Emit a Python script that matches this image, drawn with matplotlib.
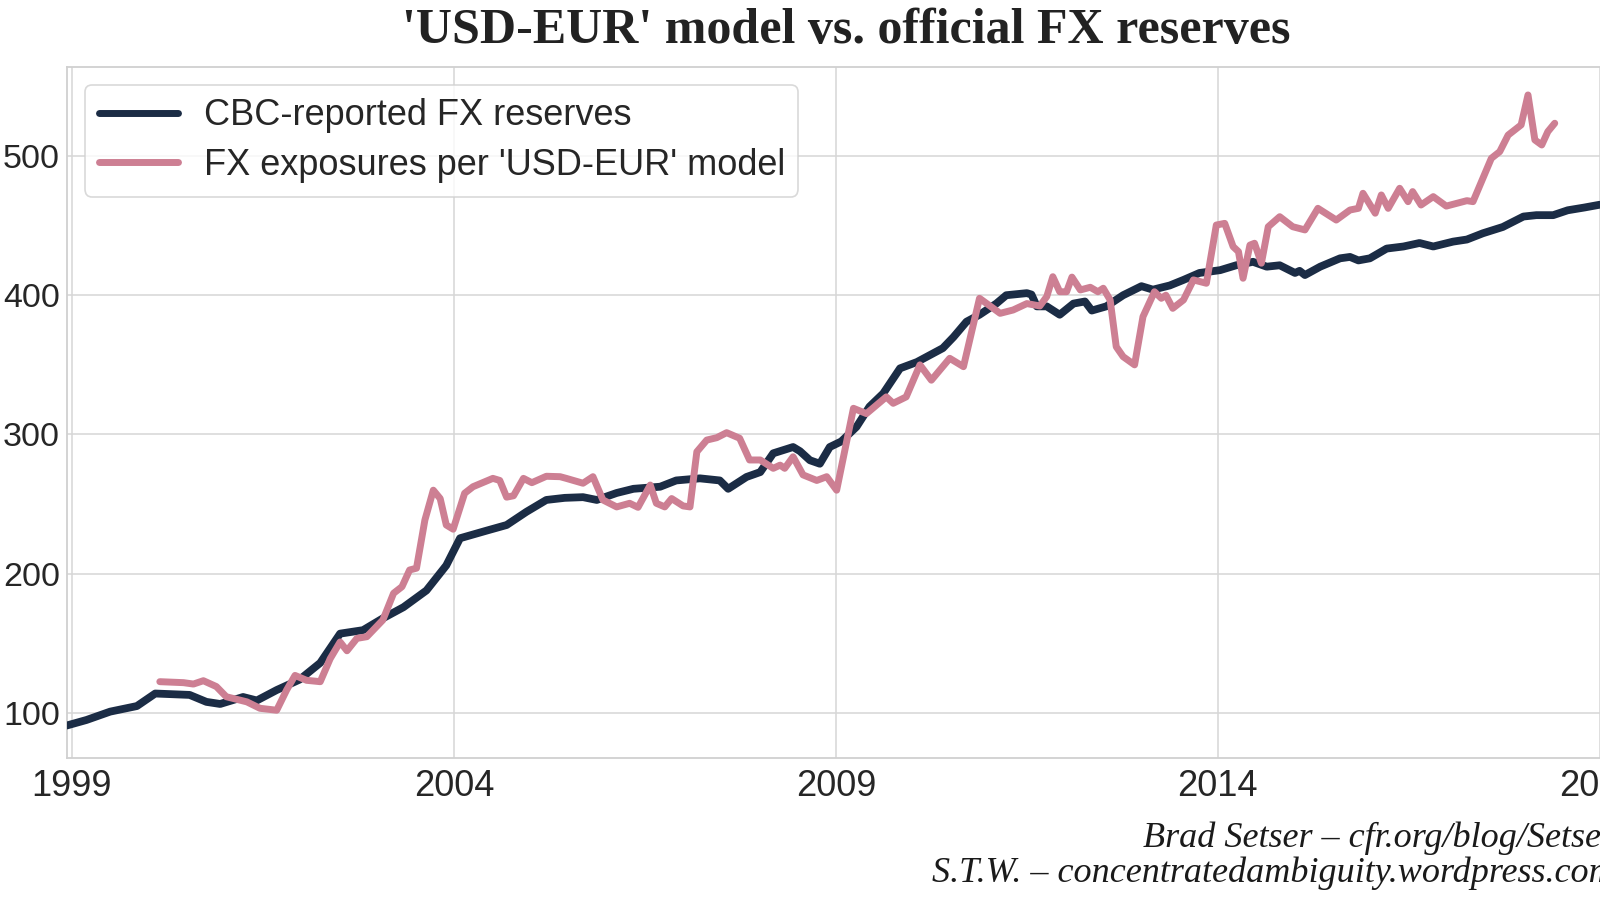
import matplotlib
matplotlib.use("Agg")
import matplotlib.pyplot as plt

# CBC-reported FX reserves (decimal year, USD bn)
cbc_year = [1998.93, 1999.19, 1999.50, 1999.85, 2000.09, 2000.54, 2000.76, 2000.94,
            2001.24, 2001.42, 2001.68, 2001.98, 2002.25, 2002.51, 2002.81, 2003.07,
            2003.34, 2003.64, 2003.90, 2004.08, 2004.43, 2004.69, 2004.95, 2005.21,
            2005.45, 2005.69, 2005.87, 2006.13, 2006.35, 2006.70, 2006.91, 2007.22,
            2007.48, 2007.59, 2007.83, 2008.01, 2008.18, 2008.44, 2008.53, 2008.66,
            2008.79, 2008.92, 2009.07, 2009.27, 2009.44, 2009.62, 2009.84, 2010.06,
            2010.40, 2010.54, 2010.71, 2010.88, 2011.10, 2011.23, 2011.50, 2011.56,
            2011.63, 2011.76, 2011.93, 2012.11, 2012.26, 2012.35, 2012.54, 2012.76,
            2013.00, 2013.15, 2013.37, 2013.55, 2013.76, 2014.03, 2014.24, 2014.46,
            2014.64, 2014.81, 2015.01, 2015.07, 2015.14, 2015.34, 2015.60, 2015.73,
            2015.84, 2015.99, 2016.21, 2016.43, 2016.64, 2016.82, 2017.08, 2017.26,
            2017.47, 2017.73, 2018.00, 2018.17, 2018.39, 2018.58, 2018.80, 2019.00]
cbc_val = [91, 95, 101, 105, 114, 113, 108, 106.5,
           111.5, 109, 116.5, 124, 136, 157, 159.5, 168,
           176, 188, 206, 225.5, 231, 235, 244.5, 253,
           254.5, 255, 253, 258, 261, 262.5, 267, 268.5,
           267, 261, 269.5, 273, 286.5, 291, 288, 281.5,
           279, 291, 295, 305.5, 320, 329.5, 347.5, 352,
           362, 370, 381, 386, 394, 400, 401.5, 400.5,
           392, 392, 386, 394, 395.5, 389, 392, 400,
           406.5, 404, 407, 411, 416, 418, 421.5, 424,
           420.5, 421.5, 416, 417.5, 414.5, 420.5, 426.5, 427.5,
           425, 426.5, 433.5, 435, 437.5, 435, 438.5, 440,
           444.5, 449, 456.5, 457.5, 457.5, 461, 463, 465]

# FX exposures per 'USD-EUR' model
model_year = [2000.15, 2000.46, 2000.59, 2000.72, 2000.89, 2001.02, 2001.29, 2001.46,
              2001.68, 2001.81, 2001.92, 2002.07, 2002.25, 2002.38, 2002.51, 2002.60,
              2002.73, 2002.86, 2003.07, 2003.21, 2003.32, 2003.42, 2003.51, 2003.62,
              2003.73, 2003.82, 2003.90, 2003.99, 2004.14, 2004.25, 2004.51, 2004.60,
              2004.69, 2004.78, 2004.91, 2005.02, 2005.21, 2005.39, 2005.47, 2005.69,
              2005.82, 2005.95, 2006.13, 2006.30, 2006.41, 2006.57, 2006.65, 2006.76,
              2006.85, 2007.00, 2007.09, 2007.18, 2007.31, 2007.44, 2007.57, 2007.74,
              2007.87, 2008.01, 2008.18, 2008.27, 2008.33, 2008.44, 2008.57, 2008.75,
              2008.88, 2009.01, 2009.23, 2009.40, 2009.66, 2009.75, 2009.92, 2010.10,
              2010.25, 2010.49, 2010.67, 2010.88, 2011.15, 2011.32, 2011.50, 2011.67,
              2011.76, 2011.84, 2011.93, 2012.02, 2012.09, 2012.20, 2012.33, 2012.43,
              2012.50, 2012.59, 2012.67, 2012.76, 2012.91, 2013.02, 2013.17, 2013.26,
              2013.32, 2013.41, 2013.55, 2013.68, 2013.85, 2013.98, 2014.09, 2014.20,
              2014.27, 2014.33, 2014.42, 2014.48, 2014.57, 2014.66, 2014.81, 2014.98,
              2015.14, 2015.31, 2015.55, 2015.73, 2015.84, 2015.90, 2016.06, 2016.14,
              2016.23, 2016.38, 2016.49, 2016.55, 2016.66, 2016.82, 2016.99, 2017.26,
              2017.34, 2017.58, 2017.69, 2017.80, 2017.97, 2018.06, 2018.15, 2018.24,
              2018.32, 2018.41]
model_val = [122.5, 121.8, 120.8, 123.2, 119, 111.7, 108, 103.4,
             102, 116.5, 127, 123.5, 122.5, 139, 151, 144.7,
             153.6, 154.8, 166.8, 186, 190.7, 202.7, 204, 238.6,
             260, 254, 235, 232, 257.8, 262.5, 268.5, 267,
             255, 256, 268.5, 265.4, 270, 269.7, 268.5, 265,
             269.7, 253, 248, 250.6, 247.7, 263.7, 250.6, 248,
             254, 248.7, 248, 287.6, 296, 297.7, 301.3, 297.3,
             281.7, 281.7, 275.7, 278, 275.7, 284, 271, 267,
             269.7, 260, 318.8, 315, 327, 322.4, 327, 350,
             339, 354.7, 348.7, 397.8, 387, 389.4, 394, 392.3,
             399, 413.3, 402.5, 402.5, 413, 403.8, 405.7, 402.5,
             405, 396.6, 363, 355.9, 350, 384.6, 402.5, 397.8,
             400, 390.6, 396.6, 411, 408.6, 450.4, 451.6, 434.9,
             431.3, 412.2, 436, 437.3, 423, 449.2, 456.4, 449.2,
             446.9, 462.4, 454, 461.2, 462.4, 473.2, 458.9, 472,
             462.4, 476.8, 467.2, 474.4, 464.8, 470.8, 464, 467.9,
             467.2, 498.3, 503.1, 515, 522.3, 543.8, 511.5, 507.9,
             517.5, 523.5]

xticks = [1999, 2004, 2009, 2014, 2019]
yticks = [100, 200, 300, 400, 500]

plt.rcParams['font.family'] = ['Liberation Sans', 'DejaVu Sans']

fig = plt.figure(figsize=(16, 9), dpi=100)
# axes run past the right edge of the figure, as in the cropped original
ax = fig.add_axes([67/1600, 142/900, 1571/1600, 691.3/900])

ax.plot(cbc_year, cbc_val, color='#1b2c45', lw=5.6, solid_capstyle='round',
        solid_joinstyle='round', label="CBC-reported FX reserves", zorder=3)
ax.plot(model_year, model_val, color='#cd7f93', lw=5.0, solid_capstyle='round',
        solid_joinstyle='round', label="FX exposures per 'USD-EUR' model", zorder=3)

ax.set_xlim(1998.935, 2019.5)
ax.set_ylim(67.7, 564.1)
ax.set_xticks(xticks)
ax.set_xticklabels([str(t) for t in xticks])
ax.set_yticks(yticks)
ax.tick_params(axis='x', labelsize=26, colors='#262626', length=0, pad=8)
ax.tick_params(axis='y', labelsize=24.5, colors='#262626', length=0, pad=5)
ax.grid(True, color='#d6d6d6', lw=1.1)
ax.set_axisbelow(True)
for s in ax.spines.values():
    s.set_color('#d0d0d0')
    s.set_linewidth(1.3)

leg = ax.legend(loc='upper left', fontsize=26, handlelength=2.2, handletextpad=0.7,
                borderaxespad=0.5, labelspacing=0.4, borderpad=0.38, fancybox=True)
leg.get_frame().set_edgecolor('#d0d0d0')
leg.get_frame().set_linewidth(1.2)
for t in leg.get_texts():
    t.set_color('#262626')
for h in leg.get_lines():
    h.set_linewidth(5)

fig.text(0.529, 1 - 43/900, "'USD-EUR' model vs. official FX reserves",
         ha='center', va='baseline', fontsize=36, fontweight='bold',
         family='Liberation Serif', color='#222222')

fig.text(1615/1600, 1 - 847/900, "Brad Setser \u2013 cfr.org/blog/Setser",
         ha='right', va='baseline', fontsize=26, style='italic',
         family='Liberation Serif', color='#1a1a1a')
fig.text(1615/1600, 1 - 882/900, "S.T.W. \u2013 concentratedambiguity.wordpress.com",
         ha='right', va='baseline', fontsize=26, style='italic',
         family='Liberation Serif', color='#1a1a1a')

fig.savefig("out.png", dpi=100)
